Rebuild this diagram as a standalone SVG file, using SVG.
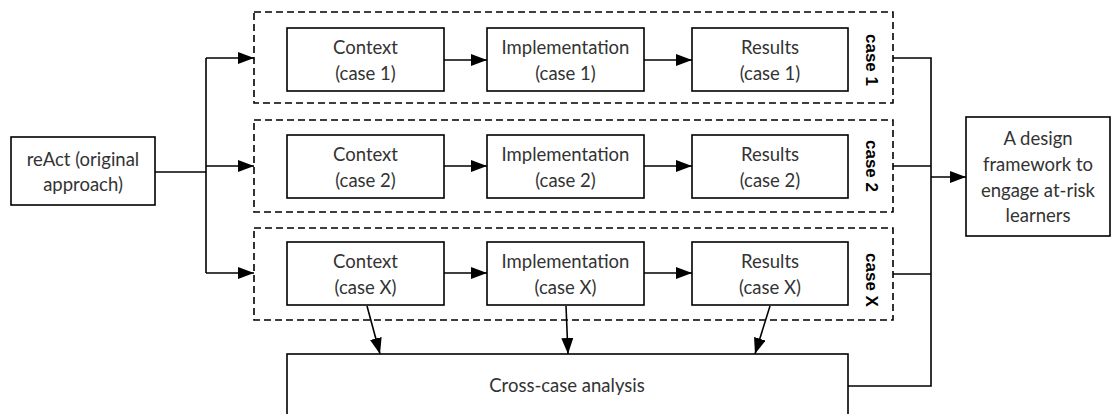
<svg xmlns="http://www.w3.org/2000/svg" width="1112" height="414" viewBox="0 0 1112 414">
<style>
.box{fill:#fff;stroke:#000;stroke-width:1.6}
.dash{fill:none;stroke:#000;stroke-width:1.6;stroke-dasharray:7,4}
.t{font-family:Lato,"Noto Sans",sans-serif;font-size:18.5px;fill:#333;text-anchor:middle}
.lab{font-family:"Liberation Sans",Arial,sans-serif;font-size:17px;font-weight:bold;fill:#000;text-anchor:middle}
.ln{fill:none;stroke:#000;stroke-width:1.6}
</style>
<defs>
<marker id="ahb" viewBox="0 0 10 10" refX="10" refY="5" markerWidth="16" markerHeight="12" markerUnits="userSpaceOnUse" orient="auto" preserveAspectRatio="none">
<path d="M0,0L10,5L0,10z" fill="#000"/>
</marker>
</defs>
<rect width="1112" height="414" fill="#fff"/>

<g id="react">
<rect class="box" x="11" y="137" width="144" height="68"/>
<text class="t" x="83" y="166">reAct (original</text>
<text class="t" x="83" y="191">approach)</text>
</g>

<g id="case1">
<rect class="dash" x="254" y="12" width="639" height="91"/>
<text class="lab" transform="translate(866,60) rotate(90)">case 1</text>
</g>
<g id="case2">
<rect class="dash" x="254" y="120" width="639" height="92"/>
<text class="lab" transform="translate(866,166) rotate(90)">case 2</text>
</g>
<g id="caseX">
<rect class="dash" x="254" y="228" width="639" height="92"/>
<text class="lab" transform="translate(866,280) rotate(90)">case X</text>
</g>

<g id="ctx1"><rect class="box" x="287" y="28" width="157" height="63"/><text class="t" x="365.5" y="54">Context</text><text class="t" x="365.5" y="80">(case 1)</text></g>
<g id="imp1"><rect class="box" x="487" y="28" width="157" height="63"/><text class="t" x="565.5" y="54">Implementation</text><text class="t" x="565.5" y="80">(case 1)</text></g>
<g id="res1"><rect class="box" x="692" y="28" width="156" height="63"/><text class="t" x="770" y="54">Results</text><text class="t" x="770" y="80">(case 1)</text></g>

<g id="ctx2"><rect class="box" x="287" y="135" width="157" height="63"/><text class="t" x="365.5" y="161">Context</text><text class="t" x="365.5" y="187">(case 2)</text></g>
<g id="imp2"><rect class="box" x="487" y="135" width="157" height="63"/><text class="t" x="565.5" y="161">Implementation</text><text class="t" x="565.5" y="187">(case 2)</text></g>
<g id="res2"><rect class="box" x="692" y="135" width="156" height="63"/><text class="t" x="770" y="161">Results</text><text class="t" x="770" y="187">(case 2)</text></g>

<g id="ctxX"><rect class="box" x="287" y="242" width="157" height="63"/><text class="t" x="365.5" y="268">Context</text><text class="t" x="365.5" y="294">(case X)</text></g>
<g id="impX"><rect class="box" x="487" y="242" width="157" height="63"/><text class="t" x="565.5" y="268">Implementation</text><text class="t" x="565.5" y="294">(case X)</text></g>
<g id="resX"><rect class="box" x="692" y="242" width="156" height="63"/><text class="t" x="770" y="268">Results</text><text class="t" x="770" y="294">(case X)</text></g>

<g id="cross">
<rect class="box" x="287" y="354" width="561" height="80"/>
<text class="t" x="567" y="392">Cross-case analysis</text>
</g>

<g id="output">
<rect class="box" x="966" y="117" width="144" height="119"/>
<text class="t" x="1038" y="145">A design</text>
<text class="t" x="1038" y="171">framework to</text>
<text class="t" x="1038" y="197">engage at-risk</text>
<text class="t" x="1038" y="222">learners</text>
</g>

<g id="connectors">
<path class="ln" d="M155,172H206"/>
<path class="ln" d="M206,58V273"/>
<path class="ln" d="M206,58H254" marker-end="url(#ahb)"/>
<path class="ln" d="M206,166H254" marker-end="url(#ahb)"/>
<path class="ln" d="M206,273H254" marker-end="url(#ahb)"/>

<path class="ln" d="M444,60H487" marker-end="url(#ahb)"/>
<path class="ln" d="M644,60H692" marker-end="url(#ahb)"/>
<path class="ln" d="M444,166H487" marker-end="url(#ahb)"/>
<path class="ln" d="M644,166H692" marker-end="url(#ahb)"/>
<path class="ln" d="M444,273H487" marker-end="url(#ahb)"/>
<path class="ln" d="M644,273H692" marker-end="url(#ahb)"/>

<path class="ln" d="M367,306L380,354" marker-end="url(#ahb)"/>
<path class="ln" d="M566,306L568,354" marker-end="url(#ahb)"/>
<path class="ln" d="M770,306L755,354" marker-end="url(#ahb)"/>

<path class="ln" d="M893,58H931V386H848"/>
<path class="ln" d="M893,166H931"/>
<path class="ln" d="M893,274H931"/>
<path class="ln" d="M931,177H966" marker-end="url(#ahb)"/>
</g>
</svg>
